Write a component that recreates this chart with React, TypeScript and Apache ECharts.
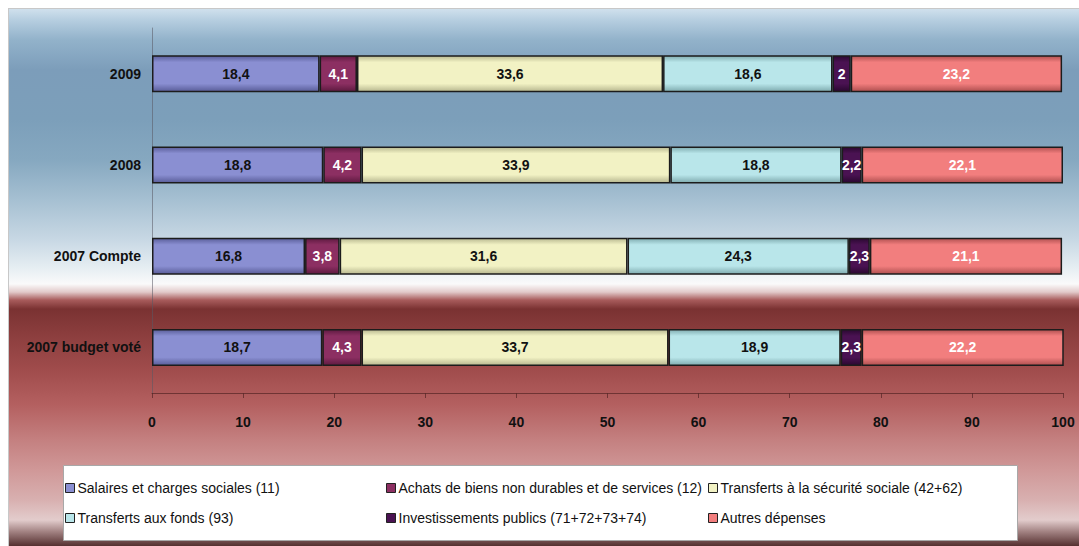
import React, { useEffect, useRef } from "react";
import * as echarts from "echarts";

const categories = ["2007 budget voté", "2007 Compte", "2008", "2009"];
const seriesNames = [
  "Salaires et charges sociales (11)",
  "Achats de biens non durables et de services (12)",
  "Transferts à la sécurité sociale (42+62)",
  "Transferts aux fonds (93)",
  "Investissements publics (71+72+73+74)",
  "Autres dépenses",
];
const salaires = [18.7, 16.8, 18.8, 18.4];
const achats = [4.3, 3.8, 4.2, 4.1];
const transfertsSecu = [33.7, 31.6, 33.9, 33.6];
const transfertsFonds = [18.9, 24.3, 18.8, 18.6];
const investissements = [2.3, 2.3, 2.2, 2];
const autres = [22.2, 21.1, 22.1, 23.2];
const xTicks = [0, 10, 20, 30, 40, 50, 60, 70, 80, 90, 100];

const seriesData = [salaires, achats, transfertsSecu, transfertsFonds, investissements, autres];
const mainColors = ["#8a8fd2", "#8c2f62", "#f2f2c4", "#b9e6ea", "#4a1252", "#f27e7e"];
const edgeColors = ["#5a5e9a", "#5e1a40", "#b8b890", "#80acb0", "#2a0830", "#b05050"];
const labelColors = ["#111", "#fff", "#111", "#111", "#fff", "#fff"];

const boldFont = "'Liberation Sans', Arial, sans-serif";

const legendPos = [
  { left: 57, top: 473 },
  { left: 378, top: 473 },
  { left: 700, top: 473 },
  { left: 57, top: 503 },
  { left: 378, top: 503 },
  { left: 700, top: 503 },
];

export default function App() {
  const ref = useRef<HTMLDivElement>(null);
  useEffect(() => {
    if (!ref.current) return;
    const chart = echarts.init(ref.current, undefined, { renderer: "svg" });
    const W = 1071;
    const H = 538;
    const o = (py: number) => (py - 8) / H;
    const bg = new echarts.graphic.LinearGradient(0, 0, 0, 1, [
      { offset: 0, color: "#d2e2ee" },
      { offset: o(20), color: "#b6cee0" },
      { offset: o(40), color: "#92b2ca" },
      { offset: o(70), color: "#7c9dba" },
      { offset: o(120), color: "#7c9fba" },
      { offset: o(160), color: "#86a8c0" },
      { offset: o(200), color: "#a6c0d2" },
      { offset: o(240), color: "#c8d8e4" },
      { offset: o(268), color: "#e6eef2" },
      { offset: o(284), color: "#fafafa" },
      { offset: o(292), color: "#e2caca" },
      { offset: o(300), color: "#a85c5c" },
      { offset: o(309), color: "#7a3232" },
      { offset: o(335), color: "#8c3e3e" },
      { offset: o(370), color: "#a04c4c" },
      { offset: o(405), color: "#b46060" },
      { offset: o(440), color: "#c48080" },
      { offset: o(470), color: "#d09898" },
      { offset: o(500), color: "#d8b0b0" },
      { offset: o(520), color: "#e2cccc" },
      { offset: o(532), color: "#a08080" },
      { offset: 1, color: "#553030" },
    ]);

    const series = seriesData.map((d, i) => ({
      name: seriesNames[i],
      type: "bar",
      stack: "total",
      barWidth: 37,
      data: d,
      itemStyle: {
        color: new echarts.graphic.LinearGradient(0, 0, 0, 1, [
          { offset: 0, color: edgeColors[i] },
          { offset: 0.18, color: mainColors[i] },
          { offset: 0.78, color: mainColors[i] },
          { offset: 1, color: edgeColors[i] },
        ]),
        borderColor: "#1c1c1c",
        borderWidth: 1.5,
      },
      label: {
        show: true,
        position: "inside",
        color: labelColors[i],
        fontFamily: boldFont,
        fontWeight: "bold",
        fontSize: 14,
        formatter: (p: any) => String(p.value).replace(".", ","),
      },
    }));

    const legends = seriesNames.map((name, i) => ({
      show: true,
      left: legendPos[i].left,
      top: legendPos[i].top,
      padding: 0,
      orient: "horizontal",
      itemWidth: 9,
      itemHeight: 9,
      icon: "rect",
      data: [
        {
          name,
          itemStyle: { color: mainColors[i], borderColor: "#222", borderWidth: 1 },
        },
      ],
      textStyle: { fontFamily: "'Liberation Sans', Arial, sans-serif", fontSize: 14, color: "#111", padding: [0, 0, 0, -2] },
      selectedMode: false,
    }));

    chart.setOption({
      animation: false,
      graphic: [
        { type: "rect", z: -10, silent: true, shape: { x: 0, y: 0, width: W, height: H }, style: { fill: bg } },
        { type: "line", z: -9, silent: true, shape: { x1: 0, y1: 0.5, x2: W, y2: 0.5 }, style: { stroke: "#c8c8c8", lineWidth: 1 } },
        { type: "line", z: -9, silent: true, shape: { x1: 0.5, y1: 0, x2: 0.5, y2: H }, style: { stroke: "#c8c8c8", lineWidth: 1 } },
        { type: "rect", z: -5, silent: true, shape: { x: 55.5, y: 457.5, width: 954, height: 75 }, style: { fill: "#ffffff", stroke: "#a8a8a8", lineWidth: 1 } },
      ],
      legend: legends,
      grid: { left: 144, right: 16, top: 20, bottom: 153 },
      xAxis: {
        type: "value",
        min: 0,
        max: 100,
        interval: 10,
        splitLine: { show: false },
        axisLine: { show: true, lineStyle: { color: "rgba(90,40,40,0.75)", width: 1 } },
        axisTick: { show: true, length: 5, lineStyle: { color: "rgba(90,40,40,0.75)" } },
        axisLabel: {
          margin: 22,
          color: "#111",
          fontFamily: boldFont,
          fontWeight: "bold",
          fontSize: 14,
          formatter: (v: number) => (xTicks.includes(v) ? String(v) : ""),
        },
      },
      yAxis: {
        type: "category",
        data: categories,
        axisLine: { show: true, lineStyle: { color: "rgba(90,90,100,0.55)", width: 1 } },
        axisTick: { show: false },
        axisLabel: {
          margin: 11,
          color: "#111",
          fontFamily: boldFont,
          fontWeight: "bold",
          fontSize: 14,
        },
      },
      series,
    });
    return () => chart.dispose();
  }, []);
  return (
    <div
      ref={ref}
      style={{ position: "absolute", left: 8, top: 8, width: 1071, height: 538 }}
    />
  );
}
